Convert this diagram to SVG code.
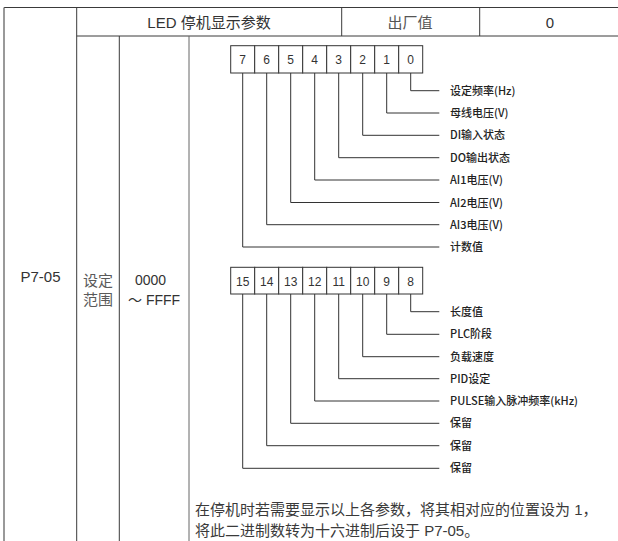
<svg xmlns="http://www.w3.org/2000/svg" width="618" height="541" viewBox="0 0 618 541">
<style>
.tl{stroke:#3a3a3a;stroke-width:1;fill:none}
.bx{fill:#fff;stroke:#333;stroke-width:1}
.bn{font-family:"Liberation Sans",Arial,sans-serif;font-size:12px;fill:#333;text-anchor:middle}
.cn{stroke:#333;stroke-width:1;fill:none}
.lb{font-family:"Noto Sans CJK SC",sans-serif;font-size:11px;fill:#222;font-weight:500}
.hd{font-family:"Liberation Sans","Noto Sans CJK SC",sans-serif;font-size:15px;fill:#333;text-anchor:middle}
.bd{font-family:"Liberation Sans","Noto Sans CJK SC",sans-serif;font-size:15px;fill:#333}
.gy{font-family:"Noto Sans CJK SC",sans-serif;font-size:15px;fill:#5a5a5a;font-weight:400}
.nt{font-family:"Liberation Sans","Noto Sans CJK SC",sans-serif;font-size:15px;fill:#3a3a3a}
</style>
<rect width="618" height="541" fill="#fff"/>
<g id="table">
<line class="tl" x1="4" y1="7.5" x2="618" y2="7.5"/>
<line x1="4" y1="7.5" x2="4" y2="541" stroke="#777" stroke-width="1.5"/>
<line class="tl" x1="76.7" y1="7.5" x2="76.7" y2="541"/>
<line class="tl" x1="76.7" y1="36" x2="618" y2="36"/>
<line class="tl" x1="341.7" y1="7.5" x2="341.7" y2="36"/>
<line class="tl" x1="479.7" y1="7.5" x2="479.7" y2="36"/>
<line class="tl" x1="119.3" y1="36" x2="119.3" y2="541"/>
<line x1="189" y1="36" x2="189" y2="541" stroke="#666" stroke-width="1"/>
</g>
<g id="header">
<text class="hd" x="209" y="28">LED 停机显示参数</text>
<text class="hd" x="410" y="28" style="fill:#555">出厂值</text>
<text class="hd" x="550" y="28">0</text>
</g>
<g id="param">
<text class="hd" x="40.5" y="282">P7-05</text>
<text class="gy" x="83" y="285.5">设定</text>
<text class="gy" x="83" y="305">范围</text>
<text class="bd" x="135" y="285" style="font-size:14px">0000</text>
<text class="bd" x="128" y="305" style="font-size:14px">～ FFFF</text>
</g>
<g id="bits-low">
<g id="bit7"><rect class="bx" x="230.7" y="45.7" width="24" height="27.3"/><text class="bn" x="242.7" y="64">7</text></g>
<g id="bit6"><rect class="bx" x="254.7" y="45.7" width="24" height="27.3"/><text class="bn" x="266.7" y="64">6</text></g>
<g id="bit5"><rect class="bx" x="278.7" y="45.7" width="24" height="27.3"/><text class="bn" x="290.7" y="64">5</text></g>
<g id="bit4"><rect class="bx" x="302.7" y="45.7" width="24" height="27.3"/><text class="bn" x="314.7" y="64">4</text></g>
<g id="bit3"><rect class="bx" x="326.7" y="45.7" width="24" height="27.3"/><text class="bn" x="338.7" y="64">3</text></g>
<g id="bit2"><rect class="bx" x="350.7" y="45.7" width="24" height="27.3"/><text class="bn" x="362.7" y="64">2</text></g>
<g id="bit1"><rect class="bx" x="374.7" y="45.7" width="24" height="27.3"/><text class="bn" x="386.7" y="64">1</text></g>
<g id="bit0"><rect class="bx" x="398.7" y="45.7" width="24" height="27.3"/><text class="bn" x="410.7" y="64">0</text></g>
</g>
<g id="bits-high">
<g id="bit15"><rect class="bx" x="230.7" y="267.3" width="24" height="26.7"/><text class="bn" x="242.7" y="285.5">15</text></g>
<g id="bit14"><rect class="bx" x="254.7" y="267.3" width="24" height="26.7"/><text class="bn" x="266.7" y="285.5">14</text></g>
<g id="bit13"><rect class="bx" x="278.7" y="267.3" width="24" height="26.7"/><text class="bn" x="290.7" y="285.5">13</text></g>
<g id="bit12"><rect class="bx" x="302.7" y="267.3" width="24" height="26.7"/><text class="bn" x="314.7" y="285.5">12</text></g>
<g id="bit11"><rect class="bx" x="326.7" y="267.3" width="24" height="26.7"/><text class="bn" x="338.7" y="285.5">11</text></g>
<g id="bit10"><rect class="bx" x="350.7" y="267.3" width="24" height="26.7"/><text class="bn" x="362.7" y="285.5">10</text></g>
<g id="bit9"><rect class="bx" x="374.7" y="267.3" width="24" height="26.7"/><text class="bn" x="386.7" y="285.5">9</text></g>
<g id="bit8"><rect class="bx" x="398.7" y="267.3" width="24" height="26.7"/><text class="bn" x="410.7" y="285.5">8</text></g>
</g>
<g id="connectors">
<polyline class="cn" points="410.7,73 410.7,90.7 439.3,90.7"/>
<polyline class="cn" points="386.7,73 386.7,113 439.3,113"/>
<polyline class="cn" points="362.7,73 362.7,135.3 439.3,135.3"/>
<polyline class="cn" points="338.7,73 338.7,157.7 439.3,157.7"/>
<polyline class="cn" points="314.7,73 314.7,180 439.3,180"/>
<polyline class="cn" points="290.7,73 290.7,202.5 439.3,202.5"/>
<polyline class="cn" points="266.7,73 266.7,224.7 439.3,224.7"/>
<polyline class="cn" points="242.7,73 242.7,247 439.3,247"/>
<polyline class="cn" points="410.7,294 410.7,311.7 439.3,311.7"/>
<polyline class="cn" points="386.7,294 386.7,334.3 439.3,334.3"/>
<polyline class="cn" points="362.7,294 362.7,356.7 439.3,356.7"/>
<polyline class="cn" points="338.7,294 338.7,378.7 439.3,378.7"/>
<polyline class="cn" points="314.7,294 314.7,401 439.3,401"/>
<polyline class="cn" points="290.7,294 290.7,423.3 439.3,423.3"/>
<polyline class="cn" points="266.7,294 266.7,445.7 439.3,445.7"/>
<polyline class="cn" points="242.7,294 242.7,468.3 439.3,468.3"/>
</g>
<g id="labels">
<text class="lb" x="450" y="94.7">设定频率(Hz)</text>
<text class="lb" x="450" y="117">母线电压(V)</text>
<text class="lb" x="450" y="139.3">DI输入状态</text>
<text class="lb" x="450" y="161.7">DO输出状态</text>
<text class="lb" x="450" y="184">AI1电压(V)</text>
<text class="lb" x="450" y="206.5">AI2电压(V)</text>
<text class="lb" x="450" y="228.7">AI3电压(V)</text>
<text class="lb" x="450" y="251">计数值</text>
<text class="lb" x="450" y="315.7">长度值</text>
<text class="lb" x="450" y="338.3">PLC阶段</text>
<text class="lb" x="450" y="360.7">负载速度</text>
<text class="lb" x="450" y="382.7">PID设定</text>
<text class="lb" x="450" y="405">PULSE输入脉冲频率(kHz)</text>
<text class="lb" x="450" y="427.3">保留</text>
<text class="lb" x="450" y="449.7">保留</text>
<text class="lb" x="450" y="472.3">保留</text>
</g>
<g id="note">
<text class="nt" x="195" y="515">在停机时若需要显示以上各参数，将其相对应的位置设为 1，</text>
<text class="nt" x="195" y="536">将此二进制数转为十六进制后设于 P7-05。</text>
</g>
</svg>
